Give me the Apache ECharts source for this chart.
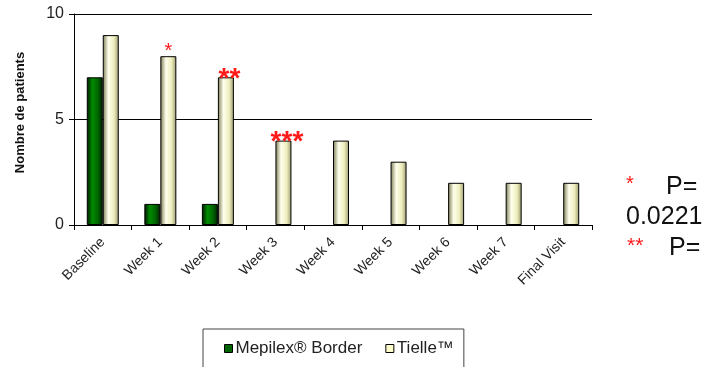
<!DOCTYPE html>
<html>
<head>
<meta charset="utf-8">
<script src="https://cdn.jsdelivr.net/npm/echarts@6/dist/echarts.min.js"></script>
<style>
html,body{margin:0;padding:0;background:#fff;}
#c{width:708px;height:367px;}
</style>
</head>
<body>
<div id="c"></div>
<script>
var categories = ['Baseline', 'Week 1', 'Week 2', 'Week 3', 'Week 4', 'Week 5', 'Week 6', 'Week 7', 'Final Visit'];
var mepilex = [7, 1, 1, 0, 0, 0, 0, 0, 0];
var tielle = [9, 8, 7, 4, 4, 3, 2, 2, 2];
var significance = ['', '*', '**', '***', '', '', '', '', ''];
var yTicks = [0, 5, 10];

var FONT = '"Liberation Sans", Arial, sans-serif';
var chart = echarts.init(document.getElementById('c'));

var greenGrad = new echarts.graphic.LinearGradient(0, 0, 1, 0, [
  {offset: 0, color: '#001400'},
  {offset: 0.35, color: '#008c00'},
  {offset: 0.7, color: '#006400'},
  {offset: 1, color: '#002000'}
]);
var creamGrad = new echarts.graphic.LinearGradient(0, 0, 1, 0, [
  {offset: 0, color: '#7a7a50'},
  {offset: 0.35, color: '#ffffee'},
  {offset: 0.7, color: '#eeeebe'},
  {offset: 1, color: '#9a9a70'}
]);

chart.setOption({
  animation: false,
  textStyle: {fontFamily: FONT},
  grid: {left: 74, right: 116, top: 14, bottom: 142},
  legend: {
    left: 203, top: 329,
    orient: 'horizontal',
    padding: [11, 10, 20, 21],
    borderColor: '#444', borderWidth: 1,
    itemWidth: 8, itemHeight: 8, itemGap: 23,
    icon: 'rect',
    textStyle: {fontSize: 17, color: '#222', fontFamily: FONT, padding: [0, 0, 0, -2]},
    data: [
      {name: 'Mepilex® Border', itemStyle: {color: '#006400', borderColor: '#000', borderWidth: 1}},
      {name: 'Tielle™', itemStyle: {color: '#ffffcc', borderColor: '#000', borderWidth: 1}}
    ]
  },
  xAxis: {
    type: 'category',
    data: categories,
    axisLine: {lineStyle: {color: '#000', width: 1}},
    axisTick: {show: true, length: 5, lineStyle: {color: '#000'}},
    axisLabel: {rotate: 45, fontSize: 14, color: '#222', margin: 15, interval: 0, fontFamily: FONT}
  },
  yAxis: {
    type: 'value',
    min: yTicks[0], max: yTicks[yTicks.length - 1], interval: 5,
    name: 'Nombre de patients',
    nameLocation: 'middle',
    nameGap: 47,
    nameTextStyle: {fontSize: 13, fontWeight: 'bold', color: '#111', fontFamily: FONT, padding: [0, 0, 0, 14]},
    axisLine: {show: true, lineStyle: {color: '#000', width: 1}},
    axisTick: {show: true, length: 5, lineStyle: {color: '#000'}},
    axisLabel: {fontSize: 16, color: '#222', margin: 10, fontFamily: FONT},
    splitLine: {show: true, lineStyle: {color: '#000', width: 1}}
  },
  series: [
    {
      name: 'Mepilex® Border',
      type: 'bar',
      data: mepilex.map(function (v) { return v === 0 ? '-' : v; }),
      barWidth: 16,
      barGap: '0%',
      itemStyle: {color: greenGrad, borderColor: '#000', borderWidth: 1}
    },
    {
      name: 'Tielle™',
      type: 'bar',
      data: tielle,
      barWidth: 16,
      itemStyle: {color: creamGrad, borderColor: '#000', borderWidth: 1},
      label: {
        show: true,
        position: 'top',
        distance: -16,
        formatter: function (p) {
          var s = significance[p.dataIndex];
          if (!s) return '';
          return s.length === 1 ? '{s|' + s + '}' : '{b|' + s + '}';
        },
        rich: {
          s: {fontSize: 20, color: '#ff1a1a', fontFamily: FONT, padding: [0, 0, 11, 0]},
          b: {fontSize: 28, color: '#ff1a1a', fontFamily: FONT, fontWeight: 'bold', padding: [0, 0, 0, 7]}
        }
      }
    }
  ],
  graphic: [
    {type: 'text', left: 626, top: 174, style: {text: '*', fontSize: 20, fill: '#ff1a1a', fontFamily: FONT}},
    {type: 'text', left: 666, top: 175, style: {text: 'P=', fontSize: 25, fill: '#111', fontFamily: FONT}},
    {type: 'text', left: 626, top: 205, style: {text: '0.0221', fontSize: 25, fill: '#111', fontFamily: FONT}},
    {type: 'text', left: 627, top: 236, style: {text: '**', fontSize: 21, fill: '#ff1a1a', fontFamily: FONT}},
    {type: 'text', left: 669, top: 236, style: {text: 'P=', fontSize: 25, fill: '#111', fontFamily: FONT}}
  ]
});
</script>
</body>
</html>
